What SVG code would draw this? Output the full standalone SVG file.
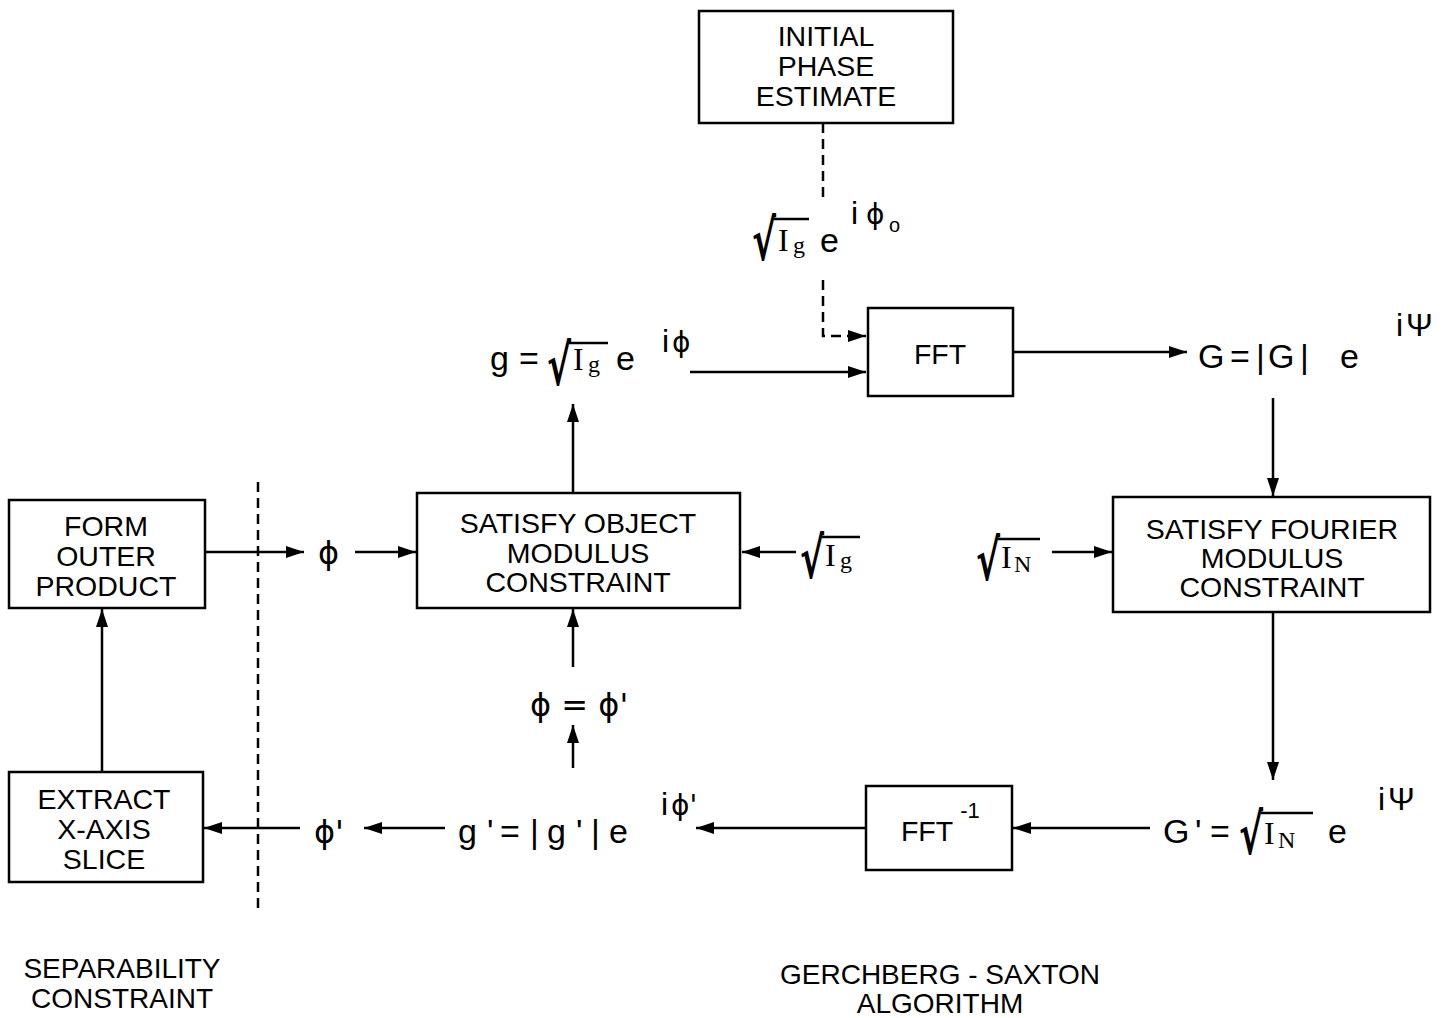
<svg xmlns="http://www.w3.org/2000/svg" width="1449" height="1018" viewBox="0 0 1449 1018">
<defs>
<marker id="ah" viewBox="0 0 18 12" refX="18" refY="6" markerWidth="18" markerHeight="12" markerUnits="userSpaceOnUse" orient="auto">
<path d="M0,0 L18,6 L0,12 Z" fill="#000"/>
</marker>
</defs>
<style>
.box{fill:#fff;stroke:#000;stroke-width:2.5}
.t{font-family:"Liberation Sans",Arial,Helvetica,sans-serif;font-size:28.5px;text-anchor:middle;fill:#000}
.cap{font-family:"Liberation Sans",Arial,Helvetica,sans-serif;font-size:28px;text-anchor:middle;fill:#000}
.m{font-family:"Liberation Sans",Arial,Helvetica,sans-serif;font-size:34px;fill:#000}
.p{font-family:"DejaVu Sans",sans-serif;font-size:32px;fill:#000}
.sup{font-family:"Liberation Sans",Arial,Helvetica,sans-serif;font-size:32px;fill:#000}
.sp{font-family:"DejaVu Sans",sans-serif;font-size:28px;fill:#000}
.s{font-family:"Liberation Serif","Times New Roman",serif;fill:#000}
.rad{font-family:"DejaVu Sans",sans-serif;font-size:40px;font-weight:bold;fill:#000}
.c{stroke:#000;stroke-width:2.5;fill:none}
.d{stroke:#000;stroke-width:2.5;fill:none;stroke-dasharray:10 6}
.vin{stroke:#000;stroke-width:2.5}
</style>

<g id="connectors">
<path class="d" d="M823,123 V200"/>
<path class="d" d="M823,280 V336 H866" marker-end="url(#ah)"/>
<path class="c" d="M690,372 H866" marker-end="url(#ah)"/>
<path class="c" d="M1013,352 H1187" marker-end="url(#ah)"/>
<path class="c" d="M1273,398 V496" marker-end="url(#ah)"/>
<path class="c" d="M1052,552 H1112" marker-end="url(#ah)"/>
<path class="c" d="M1273,612 V780" marker-end="url(#ah)"/>
<path class="c" d="M1150,828 H1013" marker-end="url(#ah)"/>
<path class="c" d="M866,828 H696" marker-end="url(#ah)"/>
<path class="c" d="M445,828 H364" marker-end="url(#ah)"/>
<path class="c" d="M300,828 H204" marker-end="url(#ah)"/>
<path class="c" d="M102,772 V609" marker-end="url(#ah)"/>
<path class="c" d="M205,552 H304" marker-end="url(#ah)"/>
<path class="c" d="M355,552 H416" marker-end="url(#ah)"/>
<path class="c" d="M796,552 H742" marker-end="url(#ah)"/>
<path class="c" d="M573,667 V609" marker-end="url(#ah)"/>
<path class="c" d="M573,768 V725" marker-end="url(#ah)"/>
<path class="c" d="M573,493 V404" marker-end="url(#ah)"/>
<path class="d" d="M258,482 V910"/>
</g>

<g id="initial-phase">
<rect class="box" x="699" y="11" width="254" height="112"/>
<text class="t" x="826" y="46">INITIAL</text>
<text class="t" x="826" y="76">PHASE</text>
<text class="t" x="826" y="106">ESTIMATE</text>
</g>

<g id="fft">
<rect class="box" x="868" y="308" width="145" height="88"/>
<text class="t" x="940" y="364">FFT</text>
</g>

<g id="satisfy-fourier">
<rect class="box" x="1113" y="497" width="317" height="115"/>
<text class="t" x="1272" y="539">SATISFY FOURIER</text>
<text class="t" x="1272" y="568">MODULUS</text>
<text class="t" x="1272" y="597">CONSTRAINT</text>
</g>

<g id="fft-inverse">
<rect class="box" x="866" y="786" width="146" height="84"/>
<text class="t" x="927" y="841">FFT</text>
<text class="t" x="970" y="818" style="font-size:22px">-1</text>
</g>

<g id="satisfy-object">
<rect class="box" x="417" y="493" width="323" height="115"/>
<text class="t" x="578" y="533">SATISFY OBJECT</text>
<text class="t" x="578" y="563">MODULUS</text>
<text class="t" x="578" y="592">CONSTRAINT</text>
</g>

<g id="form-outer-product">
<rect class="box" x="9" y="500" width="196" height="108"/>
<text class="t" x="106" y="536">FORM</text>
<text class="t" x="106" y="566">OUTER</text>
<text class="t" x="106" y="596">PRODUCT</text>
</g>

<g id="extract-slice">
<rect class="box" x="9" y="772" width="194" height="110"/>
<text class="t" x="104" y="809">EXTRACT</text>
<text class="t" x="104" y="839">X-AXIS</text>
<text class="t" x="104" y="869">SLICE</text>
</g>

<g id="label-init">
<text class="rad" transform="translate(752,260) scale(0.9,1.4)">√</text>
<line class="vin" x1="774" y1="219" x2="809" y2="219"/>
<text class="s" x="778" y="251" font-size="32">I</text>
<text class="s" x="793" y="253" font-size="24">g</text>
<text class="m" x="820" y="252">e</text>
<text class="sup" x="851" y="224">i</text>
<text class="sp" x="866" y="224">ϕ</text>
<text class="sup" x="889" y="232" style="font-size:20px">o</text>
</g>

<g id="label-g">
<text class="m" x="490" y="370">g</text>
<text class="m" x="519" y="370">=</text>
<text class="rad" transform="translate(547,385) scale(0.9,1.4)">√</text>
<line class="vin" x1="569" y1="343" x2="608" y2="343"/>
<text class="s" x="573" y="370" font-size="32">I</text>
<text class="s" x="588" y="372" font-size="24">g</text>
<text class="m" x="616" y="370">e</text>
<text class="sup" x="662" y="352">i</text>
<text class="sp" x="672" y="352">ϕ</text>
</g>

<g id="label-G">
<text class="m" x="1198" y="368">G</text>
<text class="m" x="1230" y="368">=</text>
<text class="m" x="1256" y="368">|</text>
<text class="m" x="1268" y="368">G</text>
<text class="m" x="1300" y="368">|</text>
<text class="m" x="1340" y="368">e</text>
<text class="sup" x="1396" y="336">i</text>
<text class="sup" x="1406" y="336">Ψ</text>
</g>

<g id="label-sqrtIg-right">
<text class="rad" transform="translate(800,578) scale(0.9,1.4)">√</text>
<line class="vin" x1="822" y1="537" x2="860" y2="537"/>
<text class="s" x="825" y="566" font-size="32">I</text>
<text class="s" x="840" y="568" font-size="24">g</text>
</g>

<g id="label-sqrtIN">
<text class="rad" transform="translate(976,580) scale(0.9,1.4)">√</text>
<line class="vin" x1="998" y1="539" x2="1040" y2="539"/>
<text class="s" x="1001" y="568" font-size="32">I</text>
<text class="s" x="1014" y="572" font-size="24">N</text>
</g>

<g id="label-Gprime">
<text class="m" x="1163" y="843">G</text>
<text class="m" x="1195" y="843">'</text>
<text class="m" x="1210" y="843">=</text>
<text class="rad" transform="translate(1239,854) scale(0.9,1.4)">√</text>
<line class="vin" x1="1261" y1="813" x2="1313" y2="813"/>
<text class="s" x="1264" y="844" font-size="32">I</text>
<text class="s" x="1278" y="848" font-size="24">N</text>
<text class="m" x="1328" y="843">e</text>
<text class="sup" x="1378" y="810">i</text>
<text class="sup" x="1388" y="810">Ψ</text>
</g>

<g id="label-gprime">
<text class="m" x="458" y="843">g</text>
<text class="m" x="487" y="843">'</text>
<text class="m" x="500" y="843">=</text>
<text class="m" x="530" y="843">|</text>
<text class="m" x="547" y="843">g</text>
<text class="m" x="576" y="843">'</text>
<text class="m" x="591" y="843">|</text>
<text class="m" x="609" y="843">e</text>
<text class="sup" x="661" y="815">i</text>
<text class="sp" x="671" y="815">ϕ'</text>
</g>

<g id="label-phiprime">
<text class="p" x="314" y="843">ϕ'</text>
</g>

<g id="label-phi">
<text class="p" x="318" y="564">ϕ</text>
</g>

<g id="label-phi-eq">
<text class="p" x="530" y="716">ϕ = ϕ'</text>
</g>

<g id="captions">
<text class="cap" x="122" y="978">SEPARABILITY</text>
<text class="cap" x="122" y="1008">CONSTRAINT</text>
<text class="cap" x="940" y="984">GERCHBERG - SAXTON</text>
<text class="cap" x="940" y="1013">ALGORITHM</text>
</g>
</svg>
